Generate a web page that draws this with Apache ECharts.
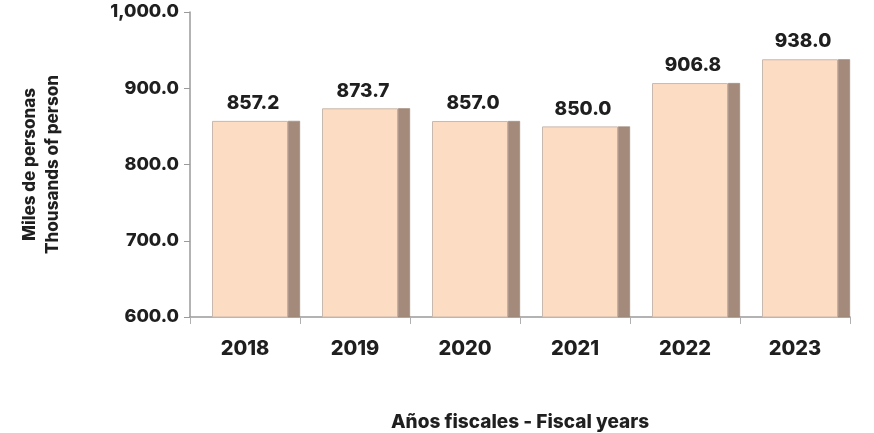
<!DOCTYPE html>
<html>
<head>
<meta charset="utf-8">
<script src="https://cdn.jsdelivr.net/npm/echarts@6/dist/echarts.min.js"></script>
<style>
  html, body { margin: 0; padding: 0; background: #fff; }
  #chart { width: 874px; height: 433px; }
</style>
</head>
<body>
<div id="chart"></div>
<script>
var years = ['2018', '2019', '2020', '2021', '2022', '2023'];
var persons = [857.2, 873.7, 857.0, 850.0, 906.8, 938.0];
var yTicks = { min: 600, max: 1000, step: 100 };

var font = 'Inter, "Open Sans", sans-serif';
var chart = echarts.init(document.getElementById('chart'));

function fmt(v) {
  return v.toLocaleString('en-US', { minimumFractionDigits: 1, maximumFractionDigits: 1 });
}

var option = {
  animation: false,
  grid: { left: 190, right: 24, top: 12, bottom: 116, containLabel: false, outerBoundsMode: 'none' },
  xAxis: {
    type: 'category',
    data: years,
    name: 'Años fiscales - Fiscal years',
    nameLocation: 'middle',
    nameGap: 96,
    nameTextStyle: { fontFamily: font, fontWeight: 800, fontSize: 19, color: '#1f1f1f' },
    axisLine: { lineStyle: { color: '#9a9a9a', width: 1.5 } },
    axisTick: { show: true, length: 7, lineStyle: { color: '#b0b0b0' } },
    axisLabel: { fontFamily: font, fontWeight: 800, fontSize: 20, color: '#1f1f1f', margin: 22 }
  },
  yAxis: {
    type: 'value',
    min: yTicks.min,
    max: yTicks.max,
    interval: yTicks.step,
    name: 'Miles de personas\nThousands of person',
    nameLocation: 'middle',
    nameGap: 126,
    nameTextStyle: {
      fontFamily: font, fontWeight: 800, fontSize: 17, color: '#1f1f1f', lineHeight: 23
    },
    axisLine: { show: true, lineStyle: { color: '#9a9a9a', width: 1.5 } },
    axisTick: { show: true, length: 6, lineStyle: { color: '#9a9a9a' } },
    splitLine: { show: false },
    axisLabel: { fontFamily: font, fontWeight: 800, fontSize: 18, color: '#1f1f1f', margin: 11, formatter: fmt }
  },
  series: [
    {
      // spacer so the box sits toward the right of each slot
      type: 'bar',
      barWidth: 22,
      barGap: '0%',
      data: persons,
      itemStyle: { color: 'rgba(0,0,0,0)' },
      silent: true
    },
    {
      type: 'bar',
      barWidth: 76,
      barGap: '0%',
      data: persons,
      itemStyle: { color: '#fddcc4', borderColor: '#c9b8ad', borderWidth: 1 },
      label: {
        show: true,
        position: 'top',
        distance: 8,
        offset: [3, 0],
        fontFamily: font,
        fontWeight: 800,
        fontSize: 19,
        color: '#1f1f1f',
        formatter: function (p) { return fmt(p.value); }
      }
    },
    {
      type: 'bar',
      barWidth: 12,
      barGap: '0%',
      data: persons,
      itemStyle: { color: '#a38a7b', borderColor: '#9a8172', borderWidth: 0.5 }
    }
  ]
};
chart.setOption(option);
</script>
</body>
</html>
